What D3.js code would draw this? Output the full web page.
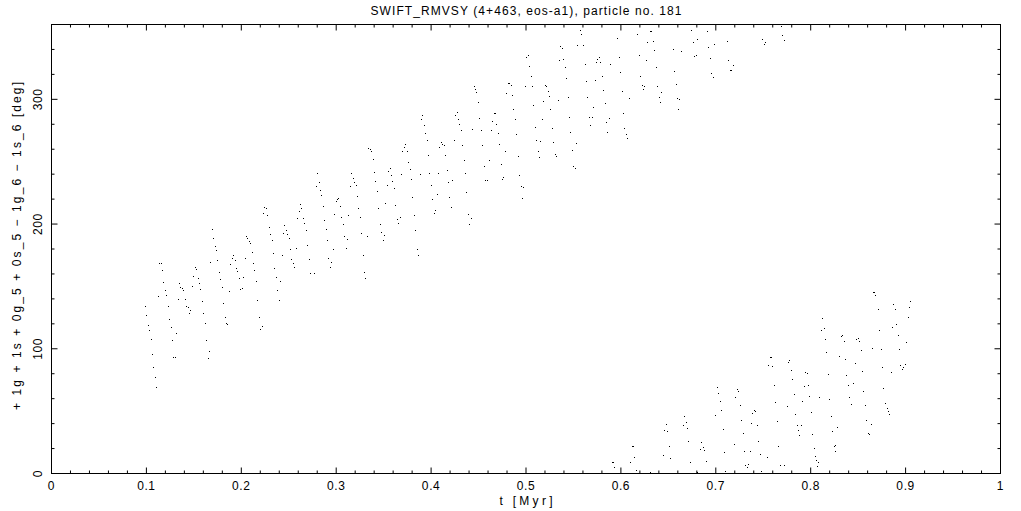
<!DOCTYPE html>
<html><head><meta charset="utf-8">
<script src="https://cdn.jsdelivr.net/npm/d3@7"></script>
<style>body{margin:0;background:#fff}svg{display:block}</style>
</head><body><svg id="c" width="1021" height="511"></svg>
<script>
// ---- data ----
const upperTime = [
0.0991,0.1001,0.1022,0.1033,0.1054,0.1064,0.1075,0.1096,0.1106,0.1128,
0.1138,0.1159,0.1170,0.1180,0.1201,0.1212,0.1233,0.1243,0.1264,0.1275,
0.1286,0.1307,0.1317,0.1338,0.1349,0.1359,0.1380,0.1391,0.1412,0.1423,
0.1444,0.1465,0.1454,0.1486,0.1496,0.1517,0.1528,0.1549,0.1560,0.1570,
0.1591,0.1602,0.1623,0.1633,0.1665,0.1654,0.1675,0.1728,0.1739,0.1749,
0.1770,0.1781,0.1802,0.1812,0.1834,0.1844,0.1855,0.1876,0.1886,0.1907,
0.1918,0.1939,0.1949,0.1960,0.1981,0.1992,0.2013,0.2023,0.2044,0.2086,
0.2097,0.2118,0.2129,0.2139,0.2160,0.2171,0.2192,0.2202,0.2223,0.2329,
0.2339,0.2350,0.2371,0.2381,0.2403,0.2413,0.2434,0.1697,0.1707,0.2055,
0.2070,0.2244,0.2266,0.2234,0.2276,0.2297,0.2308,0.2455,0.2476,0.2445,
0.2487,0.2508,
0.2582,0.2518,0.2529,0.2550,0.2561,0.2592,0.2613,0.2624,0.2634,0.2655,
0.2666,0.2687,0.2698,0.2719,0.2729,0.2771,0.2792,0.2803,0.2824,0.2835,
0.2845,0.2866,0.2877,0.2898,0.2908,0.2919,0.2940,0.2950,0.2972,0.2982,
0.3003,0.3014,0.3024,0.3045,0.3056,0.3077,0.3087,0.3109,0.3119,0.3130,
0.3151,0.3161,0.3182,0.3193,0.3214,0.3224,0.3235,0.3256,0.3267,0.3288,
0.3298,0.3309,0.3330,0.3340,0.3361,0.3372,0.3393,0.3404,0.3414,0.3435,
0.3446,0.3467,0.3477,0.3498,0.3509,0.3519,0.3541,0.3551,0.3572,0.3583,
0.3593,0.3614,0.3625,0.3646,0.3657,0.3678,0.3688,0.3699,0.3720,0.3730,
0.3751,0.3762,0.3783,0.3793,0.3804,0.3825,0.3836,0.3857,0.3867,0.3888,
0.3899,0.3909,0.3930,0.3941,0.3962,0.3973,0.3983,0.4004,0.4015,0.4036,
0.4046,0.4067,0.4078,0.4088,0.4110,0.4120,0.4141,0.4152,0.4173,0.4183,
0.4194,0.4215,0.4226,0.4247,0.4257,0.4278,0.4289,0.4299,0.4320,0.4331,
0.4352,0.4363,0.4373,0.4394,0.4405,0.4426,0.4436,0.4457,0.4468,0.4478,
0.4499,0.4510,
0.4531,0.4542,0.4563,0.4573,0.4594,0.4615,0.4636,0.4647,0.4668,0.4679,
0.4689,0.4710,0.4721,0.4742,0.4752,0.4763,0.4784,0.4795,0.4816,0.4826,
0.4847,0.4858,0.4868,0.4889,0.4900,0.4921,0.4932,0.4953,0.4974,0.4963,
0.4995,0.5005,0.5026,0.5037,0.5058,0.5069,0.5079,0.5100,0.5111,0.5132,
0.5142,0.5153,0.5174,0.5184,0.5205,0.5216,0.5237,0.5248,0.5258,0.5279,
0.5290,0.5311,0.5321,0.5342,0.5353,0.5364,0.5385,0.5395,0.5416,0.5427,
0.5448,0.5458,0.5469,0.5490,0.5501,0.5522,0.5532,0.5543,0.5574,0.5585,
0.5606,0.5627,0.5638,0.5648,0.5669,0.5680,0.5701,0.5711,0.5732,0.5743,
0.5753,0.5774,0.5785,0.5806,0.5817,0.5838,0.5848,0.5859,0.5880,0.5890,
0.5964,0.5985,0.5996,0.6017,0.6027,0.6038,0.6059,0.6070,0.6091,0.6175,
0.6196,0.6207,0.6228,0.6238,0.6249,0.6270,0.6280,0.6312,0.6322,0.6344,
0.6354,0.6375,0.6386,0.6407,0.6417,0.6428,0.6554,0.6565,0.6586,0.6596,
0.6607,0.6617,0.6639,0.6744,0.6765,0.6776,0.6797,0.6807,0.6913,0.6923,
0.6944,0.6955,0.6976,0.6986,0.7123,0.7134,0.7155,0.7165,0.7187,0.7492,
0.7513,0.7524,0.7697,0.7707,0.7728
];
const upperAngle = [
133.9,126.7,118.7,114.7,107.4,95.4,85.0,77.0,69.0,141.9,
168.4,168.4,162.8,153.1,146.7,142.7,133.9,123.5,117.1,106.6,
93.0,93.0,112.3,139.5,152.3,149.1,148.3,146.7,139.5,133.9,
133.1,130.7,128.3,149.9,158.0,165.2,163.6,156.4,152.3,147.5,
137.9,128.3,120.3,106.6,97.8,92.2,169.2,182.3,178.8,170.8,
161.2,155.5,149.1,136.3,125.1,120.3,119.5,145.9,167.6,172.4,
174.8,170.8,164.4,162.0,156.4,147.5,148.3,157.2,172.4,185.7,
184.4,177.2,168.4,162.8,153.9,138.7,125.1,115.5,117.9,186.8,
176.4,164.4,157.2,146.7,138.7,153.9,175.0,195.6,188.4,190.0,
188.4,213.3,212.5,208.5,206.9,197.2,191.6,198.8,194.8,192.4,
191.6,188.4,
180.4,179.6,171.6,168.4,165.2,204.5,210.1,215.7,212.5,204.5,
200.5,194.8,182.8,171.6,160.4,160.4,230.1,240.5,233.3,226.9,
222.9,214.1,202.9,195.6,186.8,172.4,165.2,169.2,179.6,207.7,
218.1,219.7,220.5,214.1,205.3,199.6,190.0,180.4,187.6,206.9,
230.1,240.5,236.5,233.3,230.9,222.1,212.5,205.3,192.4,174.8,
161.2,156.4,190.0,260.6,259.8,258.2,251.8,241.3,234.1,226.1,
212.5,199.6,193.2,186.8,190.8,216.5,230.9,242.1,244.5,238.9,
234.1,228.5,214.9,203.7,200.5,205.3,239.7,258.2,261.4,263.8,
258.2,249.4,243.7,235.7,221.3,206.9,194.8,179.6,174.8,239.7,
283.8,287.0,279.0,272.6,267.0,255.0,240.5,230.9,219.7,208.5,
210.9,223.7,240.5,261.4,265.4,263.8,263.0,255.0,242.9,233.3,
221.3,213.3,234.9,267.0,287.0,289.4,283.8,279.8,275.0,263.0,
251.0,240.5,225.3,207.7,199.6,204.5,275.8,310.3,307.9,305.5,
297.5,284.6,
275.3,263.0,246.2,234.9,234.9,251.0,275.0,282.2,288.6,288.6,
279.8,272.6,263.8,247.8,235.7,237.3,258.2,304.7,312.7,312.7,
311.1,303.1,291.9,283.8,271.8,254.2,238.9,230.1,229.3,220.5,
310.3,333.5,335.2,326.3,318.3,310.3,295.1,277.4,267.0,258.2,
253.4,266.2,283.8,298.3,311.1,310.3,306.3,302.3,291.9,276.6,
265.4,255.8,254.2,299.1,331.1,342.4,340.8,331.9,325.5,316.7,
301.5,285.4,273.4,259.0,246.2,244.5,264.6,343.2,355.2,352.0,
343.2,327.9,314.3,301.5,285.4,279.0,285.4,293.5,315.1,329.5,
331.9,333.5,329.5,318.3,307.1,296.7,281.4,273.4,284.6,327.9,
348.8,333.5,321.5,306.3,288.6,276.6,271.8,268.6,300.7,352.0,
335.2,318.3,311.1,307.9,310.3,331.1,345.6,354.4,354.4,346.4,
339.2,325.5,310.3,301.5,297.5,305.5,340.0,322.3,311.9,300.7,
291.9,299.9,338.4,355.2,345.6,334.4,335.2,348.0,354.4,341.6,
332.7,320.7,317.5,344.0,346.4,331.1,323.1,323.1,327.1,348.0,
344.0,345.6,358.4,351.2,347.2
];
const lowerTime = [
0.5911,0.5922,0.5933,0.6101,0.6122,0.6133,0.6143,0.6164,0.6312,0.6449,
0.6459,0.6480,0.6491,0.6512,0.6523,0.6660,0.6670,0.6691,0.6702,0.6712,
0.6733,0.6807,0.6839,0.6849,0.6870,0.6881,0.6902,0.6997,0.7018,0.7028,
0.7050,0.7060,0.7081,0.7092,0.7102,0.7197,0.7208,0.7229,0.7239,0.7260,
0.7271,0.7292,0.7302,0.7313,0.7334,0.7345,0.7366,0.7376,0.7387,0.7408,
0.7418,0.7439,0.7450,0.7471,0.7482,0.7545,0.7555,0.7576,0.7587,0.7597,
0.7619,0.7629,0.7650,0.7661,0.7682,0.7724,0.7756,0.7766,0.7777,0.7798,
0.7808,0.7829,0.7840,0.7861,0.7871,0.7882,0.7903,0.7914,0.7935,0.7945,
0.7966,0.7977,0.7987,0.8008,0.8019,0.8040,0.8051,0.8061,0.8072,0.8082,
0.8093,0.8114,0.8124,0.8145,0.8156,0.8166,0.8188,0.8198,0.8219,0.8230,
0.8251,0.8261,0.8258,0.8282,0.8303,0.8325,0.8335,0.8356,0.8367,0.8377,
0.8398,0.8409,0.8430,0.8451,0.8472,0.8483,0.8504,0.8514,0.8535,0.8546,
0.8556,0.8577,0.8588,0.8609,0.8620,0.8641,0.8651,0.8714,0.8725,0.8746,
0.8757,0.8767,0.8788,0.8809,0.8820,0.8830,0.8851,0.8862,0.8873,0.8894,
0.8904,0.8925,0.8936,0.8946,0.8967,0.8978,0.8999,0.9009,0.9031,0.9041,
0.9052,0.8662,0.8672,0.8683
];
const lowerAngle = [
8.8,8.8,4.8,8.8,21.6,21.6,12.8,2.4,0.8,14.4,
34.5,39.3,33.7,21.6,12.0,38.5,45.7,40.9,36.1,25.7,
8.8,0.8,19.2,24.9,20.8,18.4,9.6,46.5,69.0,64.1,
57.7,50.5,35.3,16.8,1.6,23.3,60.9,67.4,65.7,54.5,
42.5,32.1,17.6,6.4,4.8,7.2,17.6,40.1,48.1,50.5,
49.7,38.5,25.7,15.2,1.6,12.8,86.6,93.0,93.0,85.8,
70.6,56.9,41.7,21.6,6.4,6.4,53.7,89.0,90.6,82.6,
75.4,63.3,47.3,38.5,34.5,30.5,38.5,57.7,69.8,81.0,
80.2,70.6,61.7,48.9,31.3,20.0,13.6,10.4,5.6,8.8,
60.9,114.7,124.3,116.3,107.4,97.0,79.4,59.3,45.7,33.7,
21.6,22.5,17.6,36.9,93.8,109.8,110.6,105.8,91.4,78.6,
70.6,60.9,55.3,72.2,88.2,107.4,108.2,105.8,98.6,81.8,
65.7,54.5,42.5,32.1,31.3,39.3,100.2,131.5,114.7,99.4,
85.0,68.2,56.1,52.1,49.7,47.3,81.0,117.1,135.5,131.5,
119.5,110.6,99.4,86.6,83.4,85.0,87.4,105.0,125.1,133.1,
138.2,145.1,145.1,142.7
];
const xMajorTicks = [0,0.1,0.2,0.3,0.4,0.5,0.6,0.7,0.8,0.9,1];
const xTickLabels = ["0","0.1","0.2","0.3","0.4","0.5","0.6","0.7","0.8","0.9","1"];
const xMinorTicks = [0.02,0.04,0.06,0.08,0.12,0.14,0.16,0.18,0.22,0.24,0.26,0.28,0.32,0.34,0.36,0.38,
  0.42,0.44,0.46,0.48,0.52,0.54,0.56,0.58,0.62,0.64,0.66,0.68,0.72,0.74,0.76,0.78,0.82,0.84,0.86,0.88,
  0.92,0.94,0.96,0.98];
const yMajorTicks = [0,100,200,300];
const yTickLabels = ["0","100","200","300"];
const yMinorTicks = [20,40,60,80,120,140,160,180,220,240,260,280,320,340];
const titleText = "SWIFT_RMVSY (4+463, eos-a1), particle no. 181";
const xTitle = "t [Myr]";
const yTitle = "+ 1g + 1s + 0g_5 + 0s_5 \u2212 1g_6 \u2212 1s_6 [deg]";

// ---- drawing ----
const svg = d3.select("#c");
const FONT = "'Liberation Sans', Arial, sans-serif";
const x = d3.scaleLinear().domain([0, 1]).range([51.5, 1000.5]);
const y = d3.scaleLinear().domain([0, 360]).range([473.5, 24.5]);

svg.append("rect").attr("width", 1021).attr("height", 511).attr("fill", "#fff");

function drawAxis(gen, tx, ty) {
  const g = svg.append("g").attr("transform", `translate(${tx},${ty})`).call(gen);
  g.select(".domain").remove();
  g.selectAll(".tick line").attr("stroke", "#000").attr("stroke-width", 1);
  g.selectAll("text").attr("font-family", FONT).attr("font-size", 12).attr("fill", "#000")
    .attr("letter-spacing", "0.6px");
  return g;
}
const yTop = y(360), yBot = y(0), xL = x(0), xR = x(1);
drawAxis(d3.axisBottom(x).tickValues(xMinorTicks).tickSize(-3).tickFormat("").offset(0), 0, yBot);
drawAxis(d3.axisBottom(x).tickValues(xMajorTicks).tickSize(-6).tickPadding(8).offset(0)
  .tickFormat((d, i) => xTickLabels[i]), 0, yBot);
drawAxis(d3.axisTop(x).tickValues(xMinorTicks).tickSize(-3).tickFormat("").offset(0), 0, yTop);
drawAxis(d3.axisTop(x).tickValues(xMajorTicks).tickSize(-6).tickFormat("").offset(0), 0, yTop);
drawAxis(d3.axisLeft(y).tickValues(yMinorTicks).tickSize(-3).tickFormat("").offset(0), xL, 0);
drawAxis(d3.axisLeft(y).tickValues(yMajorTicks).tickSize(-6).tickFormat("").offset(0), xL, 0);
drawAxis(d3.axisRight(y).tickValues(yMinorTicks).tickSize(-3).tickFormat("").offset(0), xR, 0);
drawAxis(d3.axisRight(y).tickValues(yMajorTicks).tickSize(-6).tickFormat("").offset(0), xR, 0);

svg.append("rect").attr("x", xL).attr("y", yTop).attr("width", xR - xL).attr("height", yBot - yTop)
  .attr("fill", "none").attr("stroke", "#000").attr("stroke-width", 1);

svg.append("g").selectAll("text").data(yMajorTicks).join("text")
  .attr("transform", d => `translate(42,${y(d)}) rotate(-90)`)
  .attr("text-anchor", "middle").attr("font-family", FONT).attr("font-size", 12).attr("fill", "#000")
  .attr("letter-spacing", "0.6px")
  .text((d, i) => yTickLabels[i]);

svg.append("text").attr("x", (xL + xR) / 2).attr("y", 15).attr("text-anchor", "middle")
  .attr("font-family", FONT).attr("font-size", 12).attr("textLength", 311).attr("lengthAdjust", "spacing")
  .text(titleText);
svg.append("text").attr("x", (xL + xR) / 2).attr("y", 505).attr("text-anchor", "middle")
  .attr("font-family", FONT).attr("font-size", 12).attr("textLength", 53).attr("lengthAdjust", "spacing")
  .text(xTitle);
svg.append("text").attr("transform", "translate(21,246) rotate(-90)").attr("text-anchor", "middle")
  .attr("font-family", FONT).attr("font-size", 12).attr("textLength", 328).attr("lengthAdjust", "spacing")
  .text(yTitle);

const pts = d3.zip(upperTime.concat(lowerTime), upperAngle.concat(lowerAngle));
svg.append("g").selectAll("rect").data(pts).join("rect")
  .attr("x", d => Math.floor(x(d[0])))
  .attr("y", d => Math.floor(y(d[1])))
  .attr("width", 1).attr("height", 1).attr("fill", "#000")
  .attr("shape-rendering", "crispEdges");
</script>
</body></html>
